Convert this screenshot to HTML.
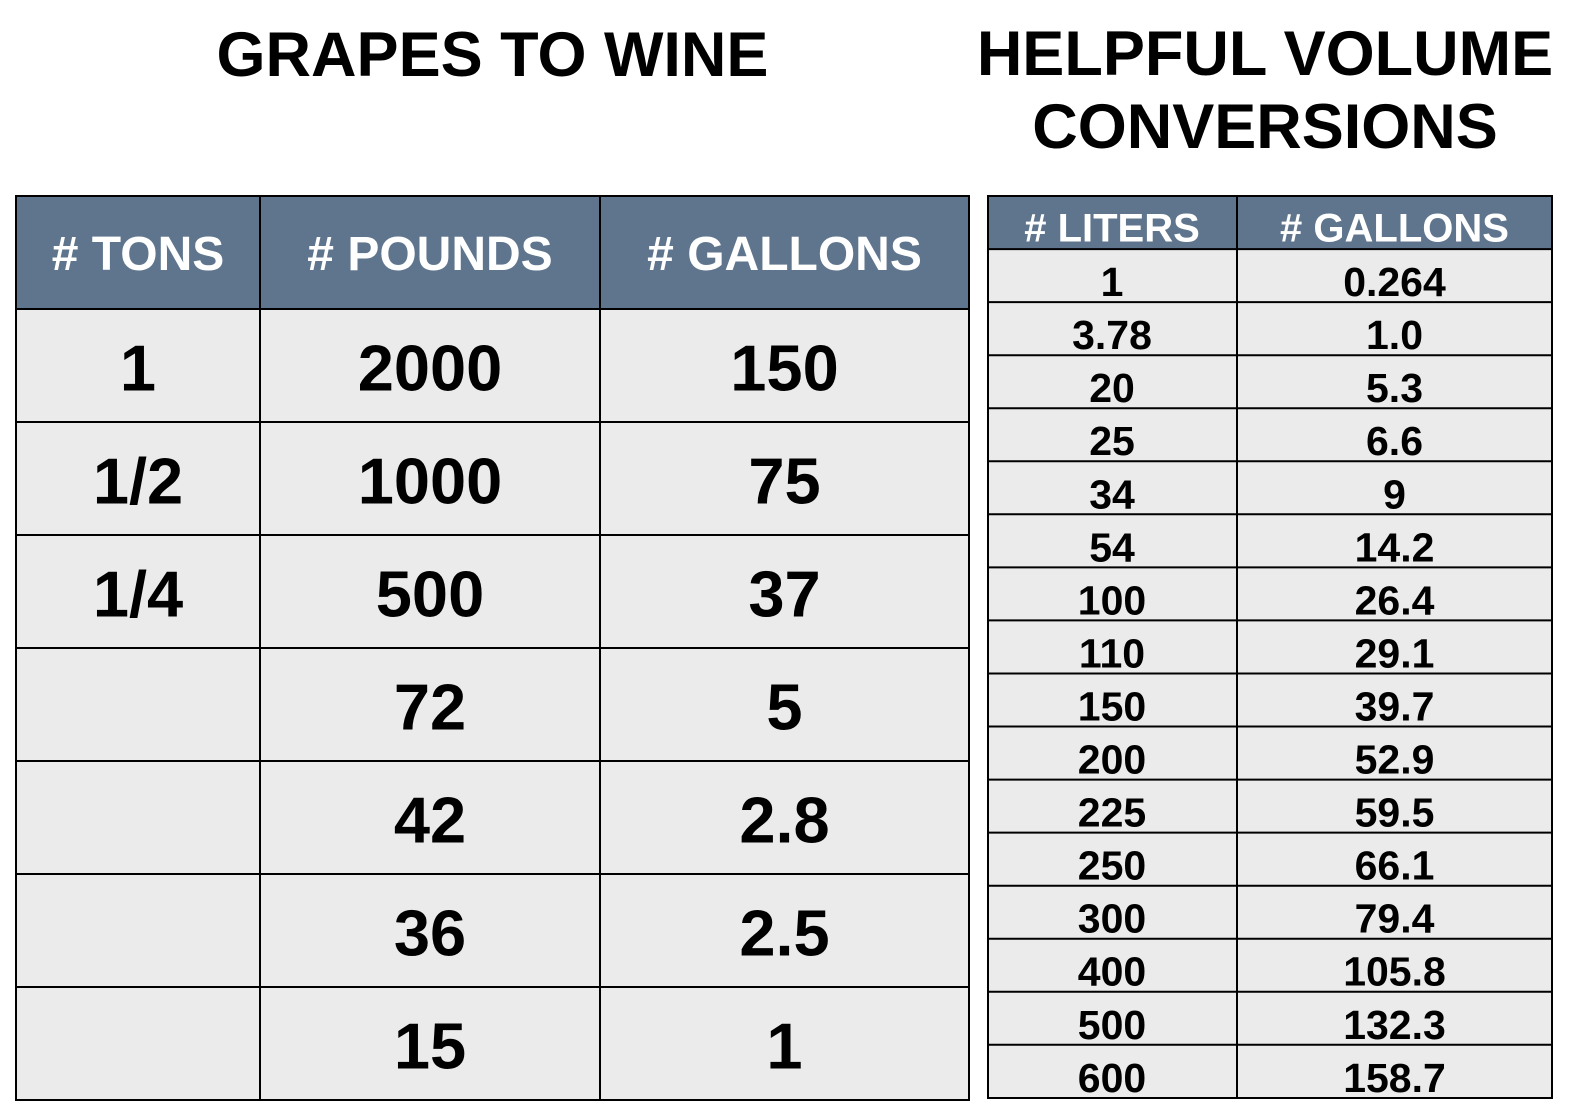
<!DOCTYPE html>
<html>
<head>
<meta charset="utf-8">
<style>
  html, body { margin: 0; padding: 0; background: #ffffff; }
  body { width: 1574px; height: 1114px; overflow: hidden; }
  svg { display: block; }
  text { font-family: "Liberation Sans", Arial, Helvetica, sans-serif; font-weight: bold; }
</style>
</head>
<body>
<svg width="1574" height="1114" viewBox="0 0 1574 1114" xmlns="http://www.w3.org/2000/svg">
  <rect x="0" y="0" width="1574" height="1114" fill="#ffffff"/>

  <!-- Titles -->
  <text x="492.5" y="76" font-size="63" text-anchor="middle" fill="#000">GRAPES TO WINE</text>
  <text x="1265" y="75" font-size="63" text-anchor="middle" fill="#000">HELPFUL VOLUME</text>
  <text x="1265" y="148" font-size="63" text-anchor="middle" fill="#000">CONVERSIONS</text>

  <!-- LEFT TABLE -->
  <rect x="16" y="196" width="953" height="113" fill="#5f758d"/>
  <rect x="16" y="309" width="953" height="791" fill="#ebebeb"/>
  <g stroke="#000" stroke-width="2" fill="none">
    <rect x="16" y="196" width="953" height="904"/>
    <line x1="260" y1="196" x2="260" y2="1100"/>
    <line x1="600" y1="196" x2="600" y2="1100"/>
    <line x1="16" y1="309" x2="969" y2="309"/>
    <line x1="16" y1="422" x2="969" y2="422"/>
    <line x1="16" y1="535" x2="969" y2="535"/>
    <line x1="16" y1="648" x2="969" y2="648"/>
    <line x1="16" y1="761" x2="969" y2="761"/>
    <line x1="16" y1="874" x2="969" y2="874"/>
    <line x1="16" y1="987" x2="969" y2="987"/>
  </g>
  <g font-size="48" fill="#fff" text-anchor="middle">
    <text x="138" y="270"># TONS</text>
    <text x="430" y="270"># POUNDS</text>
    <text x="784.5" y="270"># GALLONS</text>
  </g>
  <g font-size="65" fill="#000" text-anchor="middle">
    <text x="138" y="390.7">1</text>
    <text x="430" y="390.7">2000</text>
    <text x="784.5" y="390.7">150</text>

    <text x="138" y="503.7">1/2</text>
    <text x="430" y="503.7">1000</text>
    <text x="784.5" y="503.7">75</text>

    <text x="138" y="616.7">1/4</text>
    <text x="430" y="616.7">500</text>
    <text x="784.5" y="616.7">37</text>

    <text x="430" y="729.7">72</text>
    <text x="784.5" y="729.7">5</text>

    <text x="430" y="842.7">42</text>
    <text x="784.5" y="842.7">2.8</text>

    <text x="430" y="955.7">36</text>
    <text x="784.5" y="955.7">2.5</text>

    <text x="430" y="1068.7">15</text>
    <text x="784.5" y="1068.7">1</text>
  </g>

  <!-- RIGHT TABLE -->
  <rect x="988" y="196" width="564" height="53" fill="#5f758d"/>
  <rect x="988" y="249" width="564" height="849" fill="#ebebeb"/>
  <g stroke="#000" stroke-width="2" fill="none">
    <rect x="988" y="196" width="564" height="902"/>
    <line x1="1237" y1="196" x2="1237" y2="1098"/>
    <line x1="988" y1="249.1" x2="1552" y2="249.1"/>
    <line x1="988" y1="302.1" x2="1552" y2="302.1"/>
    <line x1="988" y1="355.2" x2="1552" y2="355.2"/>
    <line x1="988" y1="408.2" x2="1552" y2="408.2"/>
    <line x1="988" y1="461.3" x2="1552" y2="461.3"/>
    <line x1="988" y1="514.3" x2="1552" y2="514.3"/>
    <line x1="988" y1="567.4" x2="1552" y2="567.4"/>
    <line x1="988" y1="620.4" x2="1552" y2="620.4"/>
    <line x1="988" y1="673.5" x2="1552" y2="673.5"/>
    <line x1="988" y1="726.5" x2="1552" y2="726.5"/>
    <line x1="988" y1="779.6" x2="1552" y2="779.6"/>
    <line x1="988" y1="832.6" x2="1552" y2="832.6"/>
    <line x1="988" y1="885.7" x2="1552" y2="885.7"/>
    <line x1="988" y1="938.7" x2="1552" y2="938.7"/>
    <line x1="988" y1="991.8" x2="1552" y2="991.8"/>
    <line x1="988" y1="1044.8" x2="1552" y2="1044.8"/>
  </g>
  <g font-size="40" fill="#fff" text-anchor="middle">
    <text x="1112" y="241.7"># LITERS</text>
    <text x="1394.5" y="241.7"># GALLONS</text>
  </g>
  <g font-size="41" fill="#000" text-anchor="middle">
    <text x="1112" y="296.1">1</text><text x="1394.5" y="296.1">0.264</text>
    <text x="1112" y="349.1">3.78</text><text x="1394.5" y="349.1">1.0</text>
    <text x="1112" y="402.2">20</text><text x="1394.5" y="402.2">5.3</text>
    <text x="1112" y="455.2">25</text><text x="1394.5" y="455.2">6.6</text>
    <text x="1112" y="508.3">34</text><text x="1394.5" y="508.3">9</text>
    <text x="1112" y="561.3">54</text><text x="1394.5" y="561.3">14.2</text>
    <text x="1112" y="614.4">100</text><text x="1394.5" y="614.4">26.4</text>
    <text x="1112" y="667.4">110</text><text x="1394.5" y="667.4">29.1</text>
    <text x="1112" y="720.5">150</text><text x="1394.5" y="720.5">39.7</text>
    <text x="1112" y="773.5">200</text><text x="1394.5" y="773.5">52.9</text>
    <text x="1112" y="826.6">225</text><text x="1394.5" y="826.6">59.5</text>
    <text x="1112" y="879.6">250</text><text x="1394.5" y="879.6">66.1</text>
    <text x="1112" y="932.7">300</text><text x="1394.5" y="932.7">79.4</text>
    <text x="1112" y="985.7">400</text><text x="1394.5" y="985.7">105.8</text>
    <text x="1112" y="1038.8">500</text><text x="1394.5" y="1038.8">132.3</text>
    <text x="1112" y="1091.8">600</text><text x="1394.5" y="1091.8">158.7</text>
  </g>
</svg>
</body>
</html>
